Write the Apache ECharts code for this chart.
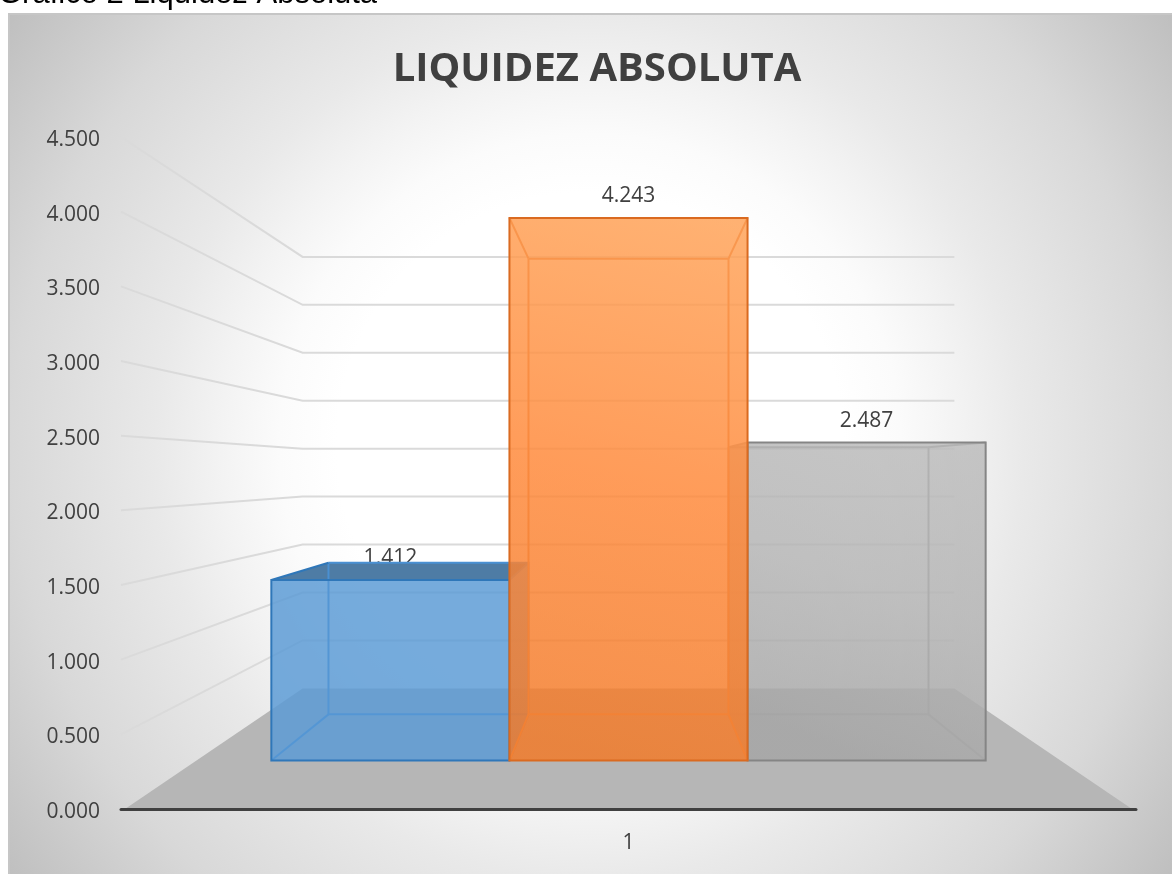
<!DOCTYPE html>
<html><head><meta charset="utf-8">
<style>html,body{margin:0;padding:0;background:#fff;overflow:hidden}#c{width:1172px;height:874px}</style>
<script src="https://cdn.jsdelivr.net/npm/echarts@6/dist/echarts.min.js"></script>
</head><body><div id="c"></div>
<script>
const categories = ['1'];
const serieA = [1.412];
const serieB = [4.243];
const serieC = [2.487];
const wallTicks = [0.5, 1, 1.5, 2, 2.5, 3, 3.5, 4, 4.5];
const titleText = 'LIQUIDEZ ABSOLUTA';
const captionText = 'Gráfico 2 Liquidez Absoluta';

// perspective model of the 3D plot
const VANISH_Y = 472, S_AXIS = 1.168, S_FRONT = 1, S_BACK = 0.84, S_WALL = 0.75, BAR_FRAC = 0.274;
const FONT = '"Open Sans", sans-serif';
function proj(api, xa, ya, s) {
  const vx = api.coord([0, 0])[0];
  return [vx + (xa - vx) * s / S_AXIS, VANISH_Y + (ya - VANISH_Y) * s / S_AXIS];
}
function poly(points, fill, opacity, z2) {
  return {type:'polygon', shape:{points}, style:{fill, opacity, stroke:'none'}, z2};
}
function line(points, stroke, lineWidth, z2) {
  return {type:'polyline', shape:{points}, style:{fill:'none', stroke, lineWidth, lineJoin:'miter'}, z2};
}
function barRenderer(slot, look) {
  return function (params, api) {
    const v = api.value(1);
    const c0 = api.coord([api.value(0), 0]);
    const cv = api.coord([api.value(0), v]);
    const w = api.size([1, 0])[0] * BAR_FRAC;
    const xl = c0[0] + (slot - 0.5) * w, xr = xl + w;
    const f = (x, y) => proj(api, x, y, S_FRONT), b = (x, y) => proj(api, x, y, S_BACK);
    const fbl = f(xl, c0[1]), fbr = f(xr, c0[1]), ftl = f(xl, cv[1]), ftr = f(xr, cv[1]);
    const bbl = b(xl, c0[1]), bbr = b(xr, c0[1]), btl = b(xl, cv[1]), btr = b(xr, cv[1]);
    const fill = look.stops ? {type:'linear', global:true, x:ftr[0], y:ftr[1], x2:(fbl[0]+fbr[0])/2, y2:fbl[1],
      colorStops:look.stops.map((c,i)=>({offset:i/(look.stops.length-1), color:c}))} : look.fill;
    const a = 0.6;
    const topOutside = btl[1] < ftl[1];
    const kids = [
      {type:'text', z2:1, style:{text:v.toFixed(3), x:(ftl[0]+ftr[0])/2, y:ftl[1]-22, align:'center', verticalAlign:'middle', fill:'#404040', fontSize:21, fontFamily:FONT}},
      poly([btl,btr,bbr,bbl], fill, a, 2),
      poly([ftl,btl,bbl,fbl], fill, a, 2),
      poly([btr,ftr,fbr,bbr], fill, a, 2),
      poly([bbl,bbr,fbr,fbl], fill, a, 2),
      poly([ftl,ftr,btr,btl], topOutside ? look.top : fill, topOutside ? 0.88 : a, 3),
      line([btl,btr,bbr,bbl,btl], look.inner, 2, 4),
      line([ftl,btl], topOutside ? look.edge : look.inner, 2, 4),
      line([ftr,btr], look.inner, 2, 4),
      line([fbl,bbl], look.inner, 2, 4),
      line([fbr,bbr], look.inner, 2, 4),
      poly([ftl,ftr,fbr,fbl], fill, a, 5),
      {type:'polygon', shape:{points:[ftl,ftr,fbr,fbl]}, style:{fill:'none', stroke:look.edge, lineWidth:2}, z2:6}
    ];
    return {type:'group', children:kids};
  };
}
const looks = {
  blue:{fill:'#5b9bd5', top:'#43729c', inner:'#4a90d2', edge:'#2f77b9'},
  orange:{stops:['#ffa358','#ff893a','#f27a28'], top:'#c86a28', inner:'#f08a45', edge:'#da6a20'},
  gray:{stops:['#bcbcbc','#b4b4b4','#a6a6a6'], top:'#909090', inner:'#a4a4a4', edge:'#858585'}
};
function barSeries(name, values, slot, look, z) {
  return {name, type:'custom', z, clip:false, silent:true,
    data: values.map((v,i)=>[categories[i], v]), encode:{x:0,y:1},
    renderItem: barRenderer(slot, look)};
}
const chart = echarts.init(document.getElementById('c'), null, {renderer:'canvas'});
chart.setOption({
  animation:false,
  backgroundColor:'#ffffff',
  title:{text:titleText, left:592, top:40, textAlign:'center', textStyle:{color:'#404040', fontFamily:FONT, fontWeight:'bold', fontSize:40, lineHeight:50}},
  graphic:[
    {type:'rect', silent:true, z:-100, shape:{x:9,y:14,width:1180,height:880},
     style:{stroke:'#c6c6c6', lineWidth:2,
       fill:{type:'radial', x:590, y:445, r:723, global:true, colorStops:[
         {offset:0,color:'#ffffff'},{offset:0.35,color:'#ffffff'},{offset:0.43,color:'#fbfbfb'},{offset:0.51,color:'#f3f3f3'},
         {offset:0.6,color:'#e9e9e9'},{offset:0.8,color:'#d8d8d8'},{offset:1,color:'#bfbfbf'}]}}},
    {type:'text', silent:true, z:-50, style:{text:captionText, x:-2, y:10, align:'left', verticalAlign:'bottom', fill:'#000', fontSize:31, fontFamily:'"Liberation Sans", Arial, sans-serif'}}
  ],
  grid:{left:121, right:36, top:137, bottom:65, containLabel:false},
  xAxis:{type:'category', data:categories, z:3,
    axisLine:{show:true, lineStyle:{color:'#404040', width:3}}, axisTick:{show:false}, splitLine:{show:false},
    axisLabel:{color:'#404040', fontSize:21, fontFamily:FONT, margin:24}},
  yAxis:{type:'value', min:0, max:4.5, interval:0.5, z:3,
    axisLine:{show:false}, axisTick:{show:false}, splitLine:{show:false},
    axisLabel:{color:'#404040', fontSize:21, fontFamily:FONT, margin:21, verticalAlign:'top', lineHeight:6, formatter:v=>v.toFixed(3)}},
  series:[
    {name:'Suelo', type:'custom', z:1, silent:true, clip:false, data:[[categories[0],0]], encode:{x:0,y:1},
      renderItem(params, api){
        const c = api.coord([0,0]), h = api.size([1,0])[0]/2;
        const l = c[0]-h, r = c[0]+h;
        return {type:'polygon', shape:{points:[[l+4,c[1]],proj(api,l,c[1],S_WALL),proj(api,r,c[1],S_WALL),[r-4,c[1]]]}, style:{fill:'#b6b6b6'}};
      }},
    {name:'Rejilla', type:'custom', z:2, silent:true, clip:false, data:wallTicks.map(t=>[categories[0],t]), encode:{x:0,y:1},
      renderItem(params, api){
        const c = api.coord([0,api.value(1)]), h = api.size([1,0])[0]/2;
        const l = c[0]-h, r = c[0]+h;
        return {type:'polyline', shape:{points:[[l,c[1]],proj(api,l,c[1],S_WALL),proj(api,r,c[1],S_WALL)]}, style:{fill:'none', stroke:'#dadada', lineWidth:2}};
      }},
    barSeries('Serie A', serieA, -1, looks.blue, 5),
    barSeries('Serie C', serieC, 1, looks.gray, 6),
    barSeries('Serie B', serieB, 0, looks.orange, 7)
  ]
});
</script></body></html>
